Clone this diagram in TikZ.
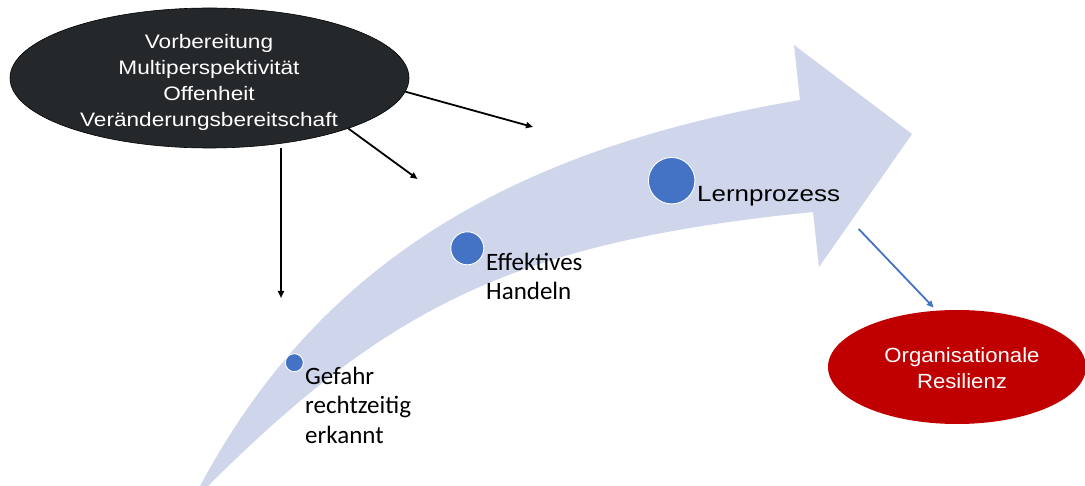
\documentclass[tikz,border=0pt]{standalone}
\usepackage{fontspec}
\setmainfont{Liberation Sans}
\newfontfamily\headfont[FakeStretch=1.16]{Liberation Sans}
\newfontfamily\stepfont[FakeStretch=1.18]{Liberation Sans}
\newfontfamily\goalfont[FakeStretch=1.08]{Liberation Sans}
\newfontfamily\calib{Carlito}
\usetikzlibrary{shapes.geometric,arrows.meta}

\definecolor{flowblue}{RGB}{207,213,234}
\definecolor{dotblue}{RGB}{68,114,196}
\definecolor{charcoal}{RGB}{37,40,43}
\definecolor{resred}{RGB}{192,0,0}

\tikzset{
  flow/.style={fill=flowblue},
  dot/.style={circle, fill=dotblue, draw=white, line width=0.9pt, inner sep=0pt},
  blk/.style={draw=black, line width=1.8pt, -{Triangle[length=7pt,width=6pt]}},
  blu/.style={draw=dotblue, line width=1.8pt, -{Triangle[length=7pt,width=6pt]}},
  steplabel/.style={inner sep=0pt, align=left, font=\calib\fontsize{25}{29.5}\selectfont},
}

\begin{document}
\begin{tikzpicture}[x=1pt,y=-1pt]
\useasboundingbox (0,0) rectangle (1085,486);

% curved process arrow
\fill[flow] (198,490) .. controls (314.5,268.75) and (504.2,150.4) .. (800,100)
  -- (794,45) -- (912,134) -- (819,267) -- (813,212)
  .. controls (514.5,241.9) and (387.8,306.2) .. (204,490)
  -- cycle;

% milestones on the arrow
\node[dot, minimum size=18pt] (d1) at (294.3,362.7) {};
\node[dot, minimum size=33pt] (d2) at (467.3,248.3) {};
\node[dot, minimum size=46.5pt] (d3) at (671.7,180.7) {};

\node[steplabel, anchor=north west] (l1) at (305,366.5) {Gefahr\\rechtzeitig\\erkannt};
\node[steplabel, anchor=north west] (l2) at (486,252.5) {Effektives\\Handeln};
\node[inner sep=0pt, anchor=base west, font=\stepfont\fontsize{22}{26}\selectfont] (l3) at (697,202) {Lernprozess};

% prerequisites
\node[ellipse, draw=black, line width=0.6pt, fill=charcoal, minimum width=399pt, minimum height=140pt, inner sep=0pt] (src) at (209.5,78) {};
\node[inner sep=0pt, align=center, text=white, font=\headfont\fontsize{19.5}{26.3}\selectfont] (srctext) at (209,82.5)
  {Vorbereitung\\Multiperspektivität\\Offenheit\\Veränderungsbereitschaft};

\coordinate (t1) at (533,127);
\coordinate (t2) at (417.5,179);
\coordinate (v1) at (281,298);
\draw[blk] (src.-4) -- (t1);
\draw[blk] (src.-20) -- (t2);
\draw[blk] (src.south -| v1) -- (v1);

% outcome
\node[ellipse, fill=resred, minimum width=258pt, minimum height=114pt, inner sep=0pt] (res) at (957,367) {};
\node[inner sep=0pt, align=center, text=white, font=\goalfont\fontsize{20.5}{25.5}\selectfont] (restext) at (962,368)
  {Organisationale\\Resilienz};

\coordinate (b0) at (858.7,229);
\draw[blu, shorten >=4pt] (b0) -- (res.110);
\end{tikzpicture}
\end{document}
